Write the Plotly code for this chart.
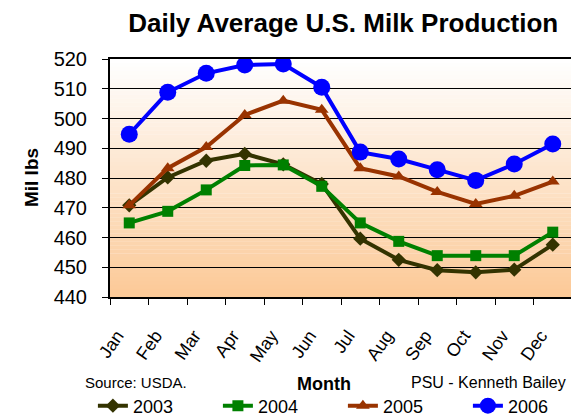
import plotly.graph_objects as go

# ========== DATA ==========

months = ['Jan', 'Feb', 'Mar', 'Apr', 'May', 'Jun',
          'Jul', 'Aug', 'Sep', 'Oct', 'Nov', 'Dec']

milk_2003 = [470.8, 480.2, 485.8, 488.1, 484.6, 478.0, 459.6, 452.5, 449.0, 448.3, 449.2, 457.6]
milk_2004 = [464.9, 468.8, 476.0, 484.2, 484.4, 477.2, 464.9, 458.7, 453.9, 453.9, 453.9, 461.8]
milk_2005 = [470.8, 483.3, 490.4, 501.2, 506.0, 502.9, 483.3, 480.5, 475.3, 471.3, 474.0, 478.8]
milk_2006 = [494.7, 508.8, 515.2, 518.0, 518.3, 510.5, 488.7, 486.4, 482.8, 479.2, 484.7, 491.4]

y_ticks = [440, 450, 460, 470, 480, 490, 500, 510, 520]

series = [
    ('2003', milk_2003, '#333300', 'diamond', 11),
    ('2004', milk_2004, '#008000', 'square', 11),
    ('2005', milk_2005, '#993300', 'triangle-up', 12),
    ('2006', milk_2006, '#0000FF', 'circle', 17),
]

FONT = 'Liberation Sans, Arial, sans-serif'

fig = go.Figure()

for name, values, color, symbol, size in series:
    fig.add_trace(go.Scatter(
        x=months,
        y=values,
        name=name,
        mode='lines+markers',
        line=dict(color=color, width=4),
        marker=dict(symbol=symbol, size=size, color=color),
    ))

# vertical white -> peach gradient behind the plot area
top_rgb = (255, 255, 255)
bottom_rgb = (252, 202, 152)
n_steps = 60
shapes = []
for i in range(n_steps):
    t = i / (n_steps - 1)
    r = int(top_rgb[0] + (bottom_rgb[0] - top_rgb[0]) * t)
    g = int(top_rgb[1] + (bottom_rgb[1] - top_rgb[1]) * t)
    b = int(top_rgb[2] + (bottom_rgb[2] - top_rgb[2]) * t)
    shapes.append(dict(
        type='rect', xref='paper', yref='paper', layer='below',
        x0=0, x1=1, y0=1 - (i + 1) / n_steps, y1=1 - i / n_steps + 0.001,
        fillcolor=f'rgb({r},{g},{b})', line=dict(width=0),
    ))

# the page adds an 8px body margin, so the margins below are offset by it
fig.update_layout(
    width=579,
    height=417,
    margin=dict(l=102, r=15, t=51, b=128, autoexpand=False),
    paper_bgcolor='white',
    plot_bgcolor='rgba(0,0,0,0)',
    font=dict(family=FONT, color='black'),
    title=dict(
        text='<b>Daily Average U.S. Milk Production</b>',
        font=dict(size=26, family=FONT),
        x=0.579, xanchor='center', y=0.985, yanchor='top',
    ),
    shapes=shapes,
    xaxis=dict(
        type='category',
        range=[-0.5, 11.5],
        tickson='boundaries',
        ticks='outside',
        ticklen=6,
        tickcolor='black',
        tickangle=-55,
        ticklabelstandoff=19,
        ticklabelshift=-12,
        tickfont=dict(size=18),
        showline=True, linecolor='black', linewidth=2, mirror=True,
        showgrid=False,
    ),
    yaxis=dict(
        range=[440, 520],
        tickvals=y_ticks,
        ticks='outside',
        ticklen=6,
        tickcolor='black',
        ticklabelstandoff=11,
        tickfont=dict(size=20),
        showline=True, linecolor='black', linewidth=2, mirror=True,
        showgrid=True, gridcolor='black', gridwidth=1,
        zeroline=False,
    ),
    legend=dict(
        orientation='h',
        x=-0.037, xanchor='left',
        y=-0.458, yanchor='middle',
        font=dict(size=18),
        entrywidth=80,
        bgcolor='rgba(0,0,0,0)',
        itemclick=False,
    ),
    annotations=[
        dict(text='<b>Mil lbs</b>', xref='paper', yref='paper',
             x=-0.171, y=0.504, xanchor='center', yanchor='middle',
             textangle=-90, showarrow=False, font=dict(size=19)),
        dict(text='<b>Month</b>', xref='paper', yref='paper',
             x=0.463, y=-0.366, xanchor='center', yanchor='middle',
             showarrow=False, font=dict(size=18)),
        dict(text='Source: USDA.', xref='paper', yref='paper',
             x=-0.058, y=-0.361, xanchor='left', yanchor='middle',
             showarrow=False, font=dict(size=15)),
        dict(text='PSU - Kenneth Bailey', xref='paper', yref='paper',
             x=0.991, y=-0.361, xanchor='right', yanchor='middle',
             showarrow=False, font=dict(size=16)),
    ],
)

fig.write_html('out.html')
